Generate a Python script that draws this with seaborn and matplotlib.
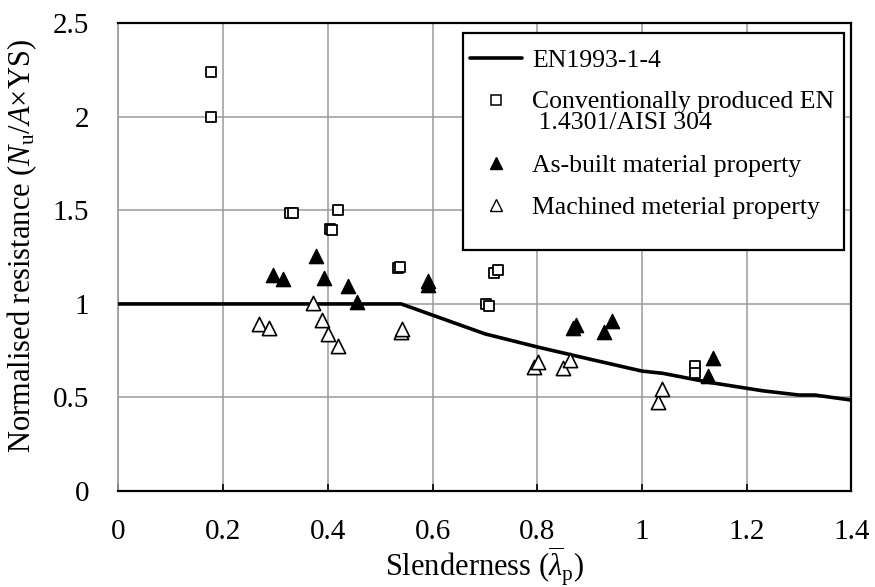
import matplotlib
matplotlib.use("Agg")
import matplotlib.pyplot as plt
from matplotlib.lines import Line2D
from matplotlib.patches import Rectangle
import seaborn as sns
import pandas as pd
import numpy as np

# ---- data ----
en_x = [0.0, 0.54, 0.60, 0.64, 0.70, 0.80, 0.90, 1.00, 1.04, 1.13, 1.23, 1.30, 1.33, 1.40]
en_y = [1.0, 1.0, 0.94, 0.90, 0.84, 0.77, 0.705, 0.641, 0.629, 0.58, 0.536, 0.513, 0.513, 0.486]

conv_x = [0.177, 0.177, 0.328, 0.333, 0.404, 0.408, 0.420, 0.533, 0.538, 0.702, 0.708, 0.717, 0.724, 1.101, 1.101]
conv_y = [2.238, 1.997, 1.485, 1.485, 1.400, 1.393, 1.502, 1.190, 1.195, 0.998, 0.990, 1.165, 1.180, 0.670, 0.629]

ab_x = [0.296, 0.315, 0.377, 0.393, 0.439, 0.456, 0.592, 0.592, 0.869, 0.874, 0.928, 0.943, 1.126, 1.136]
ab_y = [1.154, 1.133, 1.256, 1.140, 1.096, 1.012, 1.100, 1.120, 0.869, 0.887, 0.851, 0.909, 0.615, 0.709]

mm_x = [0.268, 0.287, 0.371, 0.388, 0.401, 0.419, 0.540, 0.541, 0.794, 0.802, 0.849, 0.862, 1.030, 1.039]
mm_y = [0.893, 0.873, 1.006, 0.914, 0.837, 0.775, 0.850, 0.865, 0.664, 0.691, 0.659, 0.700, 0.474, 0.543]

x_ticks = [0, 0.2, 0.4, 0.6, 0.8, 1.0, 1.2, 1.4]
x_ticklabels = ["0", "0.2", "0.4", "0.6", "0.8", "1", "1.2", "1.4"]
y_ticks = [0, 0.5, 1.0, 1.5, 2.0, 2.5]
y_ticklabels = ["0", "0.5", "1", "1.5", "2", "2.5"]

labels = ["EN1993-1-4",
          "Conventionally produced EN\n 1.4301/AISI 304",
          "As-built material property",
          "Machined meterial property"]

# ---- style ----
sns.set_theme(style="white")
plt.rcParams["font.family"] = ["Liberation Serif", "DejaVu Serif"]
plt.rcParams["mathtext.fontset"] = "custom"
plt.rcParams["mathtext.rm"] = "Liberation Serif"
plt.rcParams["mathtext.it"] = "Liberation Serif:italic"
plt.rcParams["mathtext.bf"] = "Liberation Serif:bold"
plt.rcParams["text.color"] = "black"
plt.rcParams["axes.labelcolor"] = "black"
plt.rcParams["xtick.color"] = "black"
plt.rcParams["ytick.color"] = "black"

fig = plt.figure(figsize=(8.75, 5.87), dpi=100)
ax = fig.add_axes([0.1354, 0.1635, 0.8377, 0.7968])

df_en = pd.DataFrame({"x": en_x, "y": en_y})
df_conv = pd.DataFrame({"x": conv_x, "y": conv_y})
df_ab = pd.DataFrame({"x": ab_x, "y": ab_y})
df_mm = pd.DataFrame({"x": mm_x, "y": mm_y})

sns.lineplot(data=df_en, x="x", y="y", ax=ax, color="black", lw=2.6, sort=False,
             estimator=None, zorder=3)
sns.scatterplot(data=df_conv, x="x", y="y", ax=ax, marker="s", s=62,
                facecolor="white", edgecolor="black", linewidth=1.3, zorder=4)
sns.scatterplot(data=df_ab, x="x", y="y", ax=ax, marker="^", s=105,
                facecolor="black", edgecolor="black", linewidth=1.0, zorder=4)
sns.scatterplot(data=df_mm, x="x", y="y", ax=ax, marker="^", s=105,
                facecolor="white", edgecolor="black", linewidth=1.2, zorder=4)

ax.set_xlim(0, 1.4)
ax.set_ylim(0, 2.5)
ax.set_xticks(x_ticks)
ax.set_xticklabels(x_ticklabels)
ax.set_yticks(y_ticks)
ax.set_yticklabels(y_ticklabels)
ax.grid(True, color="#9a9a9a", lw=1.1)
ax.set_axisbelow(True)

ax.tick_params(axis="x", direction="in", length=5, width=1.2, pad=20,
               labelsize=21, bottom=True, top=False)
ax.tick_params(axis="y", length=0, pad=21, labelsize=21, left=False)

for side in ["top", "right", "bottom"]:
    ax.spines[side].set_color("black")
    ax.spines[side].set_linewidth(1.6)
    ax.spines[side].set_visible(True)
ax.spines["left"].set_color("#9a9a9a")
ax.spines["left"].set_linewidth(1.2)
ax.spines["left"].set_visible(True)

ax.set_xlabel(r"Slenderness ($\overline{\lambda}_{\mathrm{p}}$)", fontsize=22, labelpad=0)
ax.set_ylabel(r"Normalised resistance ($\mathit{N}_{\mathrm{u}}$/$\mathit{A}$×YS)",
              fontsize=22)
ax.yaxis.set_label_coords(-0.108, 0.523)

# legend frame
rect = Rectangle((0.470, 0.515), 0.520, 0.464, transform=ax.transAxes,
                 facecolor="white", edgecolor="black", lw=1.6, zorder=5)
ax.add_patch(rect)

handles = [
    Line2D([], [], color="black", lw=2.6),
    Line2D([], [], ls="none", marker="s", ms=7.5, mfc="white", mec="black", mew=1.1),
    Line2D([], [], ls="none", marker="^", ms=8.5, mfc="black", mec="black", mew=1.0),
    Line2D([], [], ls="none", marker="^", ms=8.5, mfc="white", mec="black", mew=1.0),
]
leg = ax.legend(handles, labels, loc="upper left", bbox_to_anchor=(0.470, 0.960),
                frameon=False, fontsize=18.5, handlelength=2.02, handletextpad=0.39,
                labelspacing=0.76, borderpad=0.27, borderaxespad=0)
leg.set_zorder(6)
for t in leg.get_texts():
    t.set_linespacing(0.92)
# align the square marker with the first line of its two-line label
h = leg.legend_handles[1]
h.set_ydata(np.asarray(h.get_ydata(), dtype=float) + 0.5 * 0.92 * 18.5)

fig.savefig("out.png", dpi=100)
